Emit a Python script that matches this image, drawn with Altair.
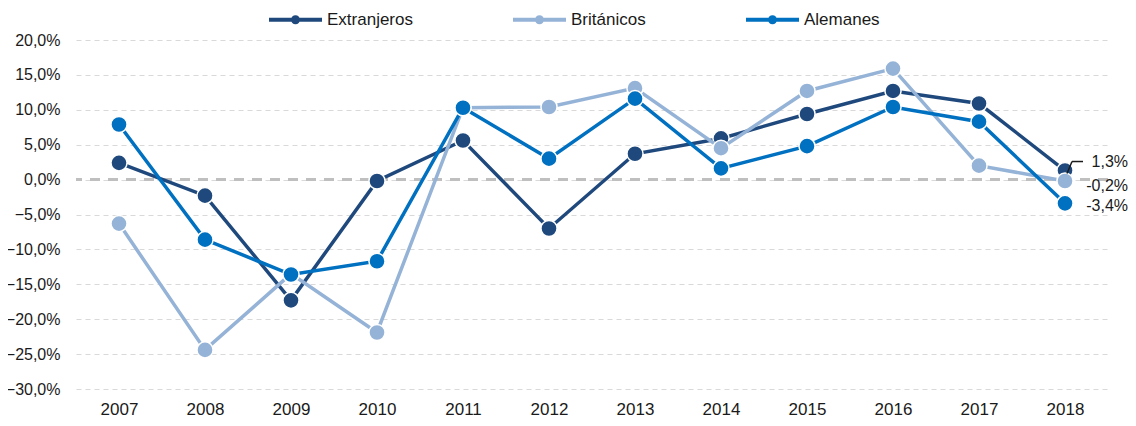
import altair as alt
import pandas as pd

years = ["2007", "2008", "2009", "2010", "2011", "2012", "2013", "2014", "2015", "2016", "2017", "2018"]
extranjeros = [2.4, -2.3, -17.3, -0.2, 5.6, -7.0, 3.7, 5.9, 9.4, 12.7, 10.9, 1.3]
britanicos = [-6.3, -24.4, -13.5, -21.9, 10.3, 10.4, 13.1, 4.5, 12.7, 15.9, 2.0, -0.2]
alemanes = [7.9, -8.6, -13.6, -11.7, 10.3, 3.0, 11.6, 1.6, 4.8, 10.4, 8.3, -3.4]
series = ["Extranjeros", "Británicos", "Alemanes"]
colors = ["#1F497D", "#95B3D7", "#0070C0"]
y_ticks = [20, 15, 10, 5, 0, -5, -10, -15, -20, -25, -30]

values = {"Extranjeros": extranjeros, "Británicos": britanicos, "Alemanes": alemanes}
rows = []
for s in series:
    for y, v in zip(years, values[s]):
        rows.append({"year": y, "series": s, "value": v})
df = pd.DataFrame(rows)
last = df[df["year"] == "2018"].copy()
last["label"] = last["value"].map(lambda v: f"{v:.1f}".replace(".", ",") + "%")

FONT = "Liberation Sans"
TXT = "#1a1a1a"
legend_path = ("M-1,-0.075L1,-0.075L1,0.075L-1,0.075Z "
               "M-0.17,0A0.17,0.17 0 1,1 0.17,0A0.17,0.17 0 1,1 -0.17,0Z")

AX_X = alt.Axis(title=None, labelAngle=0, ticks=False, domain=False,
                labelPadding=12, labelFontSize=17, labelFont=FONT,
                labelColor=TXT, grid=False)
AX_Y = alt.Axis(title=None, values=y_ticks, ticks=False, domain=False,
                labelPadding=16, labelFontSize=16, labelFont=FONT,
                labelColor=TXT, grid=True, gridColor="#d9d9d9",
                gridDash=[5, 4], gridWidth=1, labelOverlap=False,
                labelExpr="replace(format(datum.value, '.1f'), '.', ',') + '%'")
XS = alt.Scale(type="point", padding=0.5)
YS = alt.Scale(domain=[-30, 20], nice=False, zero=False)


def X(f="year:O"):
    return alt.X(f, scale=XS, axis=AX_X)


def Y(f="value:Q"):
    return alt.Y(f, scale=YS, axis=AX_Y)


color_scale = alt.Scale(domain=series, range=colors)
legend = alt.Legend(title=None, orient="none", direction="horizontal",
                    legendX=193, legendY=-47,
                    symbolType=legend_path, symbolSize=2809,
                    symbolStrokeWidth=0, symbolOpacity=1,
                    labelFont=FONT, labelFontSize=17,
                    labelColor=TXT, labelOffset=5,
                    columnPadding=100)

base = alt.Chart(df)

zero = alt.Chart(pd.DataFrame({"z": [0]})).mark_rule(
    color="#bfbfbf", strokeWidth=3, strokeDash=[10, 8]
).encode(y=Y("z:Q"))

layers = [zero]
for s, c in zip(series, colors):
    sub = base.transform_filter(alt.datum.series == s)
    line = sub.mark_line(strokeWidth=3.5, color=c).encode(x=X(), y=Y())
    pts = sub.mark_point(filled=True, size=260, opacity=1, stroke="white", strokeWidth=1.5).encode(
        x=X(), y=Y(),
        color=alt.Color("series:N", scale=color_scale, sort=series, legend=legend),
    )
    layers += [line, pts]

lbl_data = alt.Chart(last)
dys = {"Extranjeros": -9, "Británicos": 5, "Alemanes": 3}
for s in series:
    layers.append(
        lbl_data.transform_filter(alt.datum.series == s).mark_text(
            align="right", baseline="middle", dx=63, dy=dys[s], fontSize=16,
            font=FONT, color=TXT
        ).encode(x=X(), y=Y(), text="label:N")
    )

e_last = lbl_data.transform_filter(alt.datum.series == "Extranjeros")
layers.append(e_last.mark_rule(color=TXT, strokeWidth=1.5, xOffset=2, yOffset=3,
                                x2Offset=7, y2Offset=-9).encode(
    x=X(), x2="year", y=Y(), y2="value"))
layers.append(e_last.mark_rule(color=TXT, strokeWidth=1.5, xOffset=7, yOffset=-9,
                                x2Offset=18, y2Offset=-9).encode(
    x=X(), x2="year", y=Y(), y2="value"))

chart = alt.layer(*layers).properties(
    width=1032, height=349,
    autosize=alt.AutoSizeParams(type="none"),
    padding={"left": 68, "top": 32, "right": 20, "bottom": 34},
).configure_view(stroke=None)

chart.save("out.html", embed_options={"renderer": "svg", "actions": False})
